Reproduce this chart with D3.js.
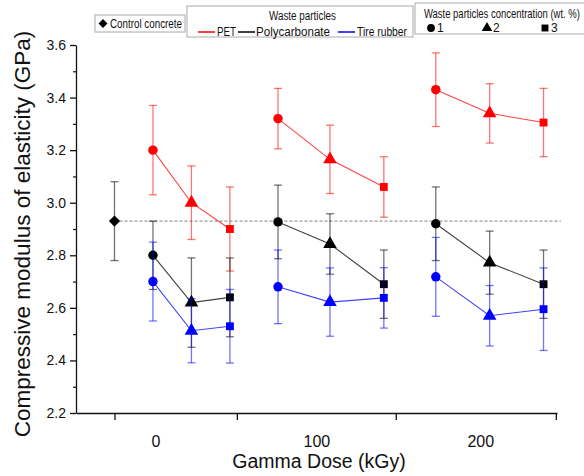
<!DOCTYPE html>
<html><head><meta charset="utf-8">
<script src="https://cdn.jsdelivr.net/npm/d3@7"></script>
<style>
body{margin:0;background:#fff}
svg{display:block}
text{font-family:"Liberation Sans",Arial,sans-serif;fill:#111}
</style>
</head><body>
<svg id="chart" width="584" height="476"></svg>
<script>
// ---------- data ----------
const doseLabels = ["0", "100", "200"];
const particles = ["PET", "Polycarbonate", "Tire rubber"];
const concentrations = ["1", "2", "3"];
const controlMean = 2.93;
const controlErr = 0.15;
// each row = one gamma dose group, columns = concentration 1,2,3 wt.%
const petMean = [[3.20, 3.00, 2.90], [3.32, 3.165, 3.06], [3.43, 3.34, 3.305]];
const petErr  = [[0.17, 0.14, 0.16], [0.115, 0.13, 0.115], [0.14, 0.113, 0.13]];
const pcMean  = [[2.80, 2.62, 2.64], [2.927, 2.843, 2.69], [2.92, 2.772, 2.69]];
const pcErr   = [[0.13, 0.17, 0.15], [0.14, 0.115, 0.13], [0.14, 0.12, 0.13]];
const trMean  = [[2.70, 2.513, 2.53], [2.68, 2.622, 2.638], [2.718, 2.57, 2.595]];
const trErr   = [[0.15, 0.122, 0.14], [0.14, 0.13, 0.115], [0.15, 0.115, 0.157]];
const yTicks = [2.2, 2.4, 2.6, 2.8, 3.0, 3.2, 3.4, 3.6];
const yMinorTicks = [2.3, 2.5, 2.7, 2.9, 3.1, 3.3, 3.5];
// x positions in axis units (categorical slots along the dose axis)
const controlSlot = 1;
const groupSlots = [[2, 3, 4], [5.25, 6.6, 8], [9.35, 10.75, 12.15]];
const xTickSlots = [1, 4.18, 8.31, 12.47];
const xLabelSlots = [2.08, 6.26, 10.52];

// ---------- setup ----------
const svg = d3.select("#chart");
const x = d3.scaleLinear().domain([0, 12.5]).range([76, 557]);
const y = d3.scaleLinear().domain([2.2, 3.6]).range([413, 45]);
const colors = {"PET": "#ff0000", "Polycarbonate": "#000000", "Tire rubber": "#0000ff"};
const symbols = [d3.symbolCircle, d3.symbolTriangle, d3.symbolSquare];
const symbolSizes = [70, 80, 62];

// ---------- axes ----------
const yAxis = svg.append("g").attr("transform", "translate(76,0)")
  .call(d3.axisLeft(y).tickValues(yTicks).tickSize(6).tickSizeOuter(0).tickPadding(4)
    .tickFormat(d3.format(".1f")));
yAxis.selectAll("text").attr("font-size", 14).style("font-family", '"Liberation Sans",Arial,sans-serif').attr("fill", "#111");
yAxis.selectAll("line,path").attr("stroke", "#111").attr("stroke-width", 1.3);
const yMinor = svg.append("g").attr("transform", "translate(76,0)")
  .call(d3.axisLeft(y).tickValues(yMinorTicks).tickSize(3).tickFormat(""));
yMinor.select(".domain").remove();
yMinor.selectAll("line").attr("stroke", "#111").attr("stroke-width", 1.2);

const xAxis = svg.append("g").attr("transform", "translate(0,413)")
  .call(d3.axisBottom(x).tickValues(xTickSlots).tickSize(7).tickSizeOuter(0).tickFormat(""));
xAxis.selectAll("line,path").attr("stroke", "#111").attr("stroke-width", 1.3);

svg.append("g").selectAll("text").data(doseLabels).join("text")
  .attr("x", (d, i) => x(xLabelSlots[i])).attr("y", 447)
  .attr("text-anchor", "middle").attr("font-size", 16).text(d => d);

svg.append("text").attr("x", 319).attr("y", 468).attr("text-anchor", "middle")
  .attr("font-size", 19.5).text("Gamma Dose (kGy)");
svg.append("text").attr("transform", "translate(30,234) rotate(-90)")
  .attr("text-anchor", "middle").attr("font-size", 22.5)
  .text("Compressive modulus of elasticity (GPa)");

// ---------- reference dashed line ----------
svg.append("line")
  .attr("x1", x(controlSlot)).attr("x2", x(12.6))
  .attr("y1", y(controlMean)).attr("y2", y(controlMean))
  .attr("stroke", "#999").attr("stroke-width", 1.3).attr("stroke-dasharray", "3,2");

// ---------- error bar helper ----------
function errorBar(g, cx, m, e, color) {
  const eb = g.append("g").attr("stroke", color).attr("stroke-opacity", 0.55).attr("stroke-width", 1.3);
  eb.append("line").attr("x1", x(cx)).attr("x2", x(cx)).attr("y1", y(m - e)).attr("y2", y(m + e));
  [m - e, m + e].forEach(v => eb.append("line")
    .attr("x1", x(cx) - 4).attr("x2", x(cx) + 4).attr("y1", y(v)).attr("y2", y(v)));
}

// ---------- control ----------
const ctrl = svg.append("g");
errorBar(ctrl, controlSlot, controlMean, controlErr, "#000");
ctrl.append("path").attr("d", d3.symbol(d3.symbolDiamond2, 80)())
  .attr("transform", `translate(${x(controlSlot)},${y(controlMean)})`).attr("fill", "#000");

// ---------- series ----------
const seriesData = [
  {name: "PET", mean: petMean, err: petErr},
  {name: "Polycarbonate", mean: pcMean, err: pcErr},
  {name: "Tire rubber", mean: trMean, err: trErr}
];
const line = d3.line().x(d => x(d.slot)).y(d => y(d.v));
seriesData.forEach(s => {
  const g = svg.append("g");
  const col = colors[s.name];
  s.mean.forEach((row, gi) => {
    const pts = row.map((v, ci) => ({v, e: s.err[gi][ci], slot: groupSlots[gi][ci], ci}));
    pts.forEach(p => errorBar(g, p.slot, p.v, p.e, col));
    g.append("path").datum(pts).attr("d", line).attr("fill", "none")
      .attr("stroke", col).attr("stroke-opacity", 0.75).attr("stroke-width", 1.1);
    g.selectAll(null).data(pts).join("path")
      .attr("d", p => d3.symbol(symbols[p.ci], symbolSizes[p.ci])())
      .attr("transform", p => `translate(${x(p.slot)},${y(p.v)})`)
      .attr("fill", col);
  });
});

// ---------- legends ----------
const lg = svg.append("g");
function fitText(g, tx, ty, len, str, anchor) {
  return g.append("text").attr("x", tx).attr("y", ty).attr("font-size", 12)
    .attr("text-anchor", anchor || "start")
    .attr("textLength", len).attr("lengthAdjust", "spacingAndGlyphs").text(str);
}
// box 1
lg.append("rect").attr("x", 95).attr("y", 15).attr("width", 90).attr("height", 17)
  .attr("fill", "#fff").attr("stroke", "#aaa");
lg.append("path").attr("d", d3.symbol(d3.symbolDiamond2, 50)()).attr("transform", "translate(103,23.5)").attr("fill", "#000");
fitText(lg, 110, 28, 72, "Control concrete");
// box 2
lg.append("rect").attr("x", 187).attr("y", 6).attr("width", 226).attr("height", 31)
  .attr("fill", "#fff").attr("stroke", "#aaa");
fitText(lg, 269, 20, 67, "Waste particles");
const itemLine = [198, 238, 338];
const itemText = [[217, 19], [256, 74], [357, 50]];
particles.forEach((p, i) => {
  lg.append("line").attr("x1", itemLine[i]).attr("x2", itemLine[i] + 17).attr("y1", 32).attr("y2", 32)
    .attr("stroke", colors[p]).attr("stroke-width", 1.5);
  fitText(lg, itemText[i][0], 36, itemText[i][1], p);
});
// box 3
lg.append("rect").attr("x", 415).attr("y", 3).attr("width", 180).attr("height", 31)
  .attr("fill", "#fff").attr("stroke", "#aaa");
lg.append("g").attr("transform", "translate(424,18) scale(0.79,1)")
  .append("text").attr("x", 0).attr("y", 0).attr("font-size", 12)
  .text("Waste particles concentration (wt. %)");
const concX = [431, 487, 545];
concentrations.forEach((c, i) => {
  lg.append("path").attr("d", d3.symbol(symbols[i], 48)())
    .attr("transform", `translate(${concX[i]},28)`).attr("fill", "#000");
  lg.append("text").attr("x", concX[i] + 6).attr("y", 32).attr("font-size", 12).text(c);
});
</script>
</body></html>
